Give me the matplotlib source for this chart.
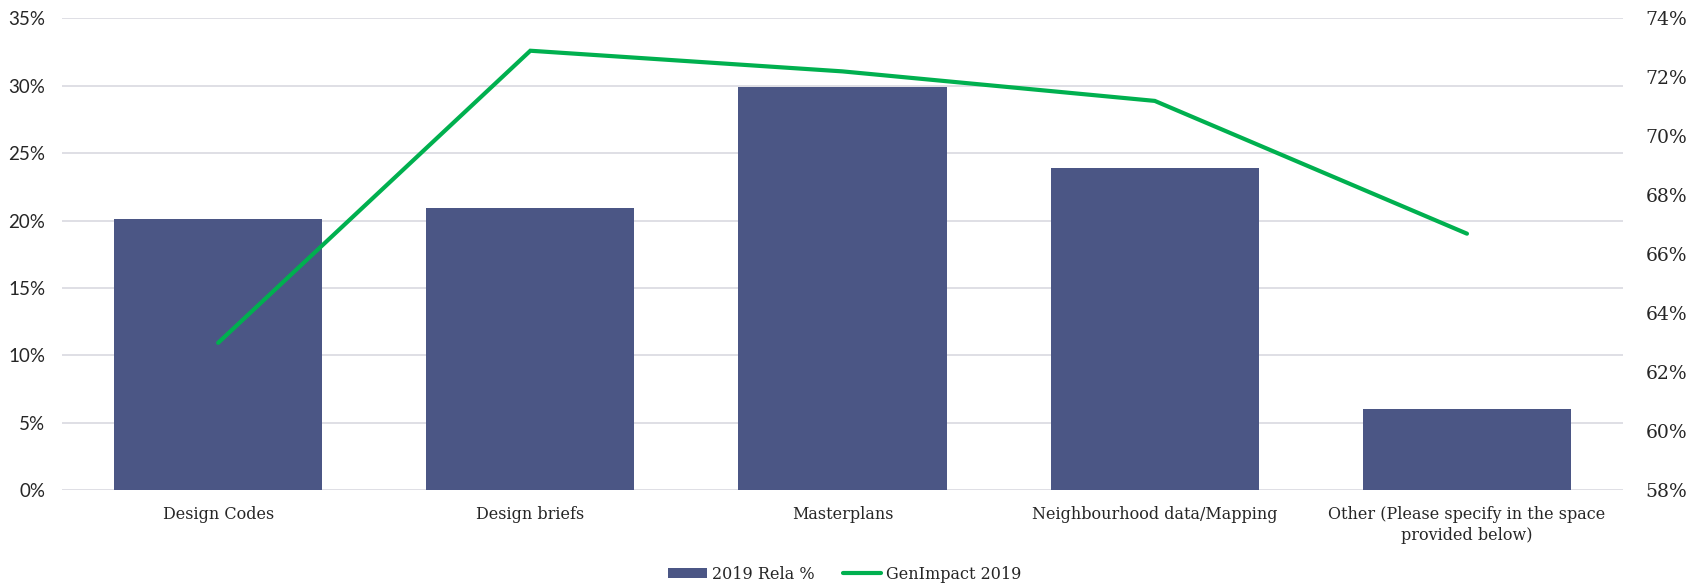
import matplotlib
matplotlib.use("Agg")
import matplotlib.pyplot as plt
from matplotlib.ticker import PercentFormatter, MultipleLocator
from matplotlib.patches import Patch
from matplotlib.lines import Line2D

# Data
categories = [
    "Design Codes",
    "Design briefs",
    "Masterplans",
    "Neighbourhood data/Mapping",
    "Other (Please specify in the space\nprovided below)",
]
rela_2019 = [0.201, 0.209, 0.299, 0.239, 0.060]
genimpact_2019 = [0.630, 0.729, 0.722, 0.712, 0.667]

bar_name = "2019 Rela %"
line_name = "GenImpact 2019"

BAR_COLOR = "#4B5685"
LINE_COLOR = "#00B04F"
GRID_COLOR = "#DCDCE3"
TEXT_COLOR = "#262626"
SERIF = "DejaVu Serif"
SANS = "Lato"

fig = plt.figure(figsize=(16.9, 5.84), dpi=100)
ax = fig.add_axes([0.0367, 0.1603, 0.9237, 0.8084])

x = list(range(len(categories)))
ax.bar(x, rela_2019, width=0.667, color=BAR_COLOR, zorder=2)
ax.set_xlim(-0.5, len(categories) - 0.5)
ax.set_ylim(0, 0.35)
ax.yaxis.set_major_locator(MultipleLocator(0.05))
ax.yaxis.set_major_formatter(PercentFormatter(1.0, decimals=0))
ax.grid(axis="y", color=GRID_COLOR, linewidth=1.3, zorder=0)
ax.set_axisbelow(True)
for s in ax.spines.values():
    s.set_visible(False)
ax.tick_params(axis="both", length=0)
ax.tick_params(axis="y", pad=12)
ax.tick_params(axis="x", pad=11)
ax.set_xticks(x)
ax.set_xticklabels(categories, fontsize=11.5, family=SERIF, color=TEXT_COLOR,
                   linespacing=1.3)
for lbl in ax.get_yticklabels():
    lbl.set_fontfamily(SANS)
    lbl.set_fontsize(13.5)
    lbl.set_color(TEXT_COLOR)

ax2 = ax.twinx()
ax2.plot(x, genimpact_2019, color=LINE_COLOR, linewidth=3, solid_capstyle="round",
         solid_joinstyle="miter", zorder=3)
ax2.set_ylim(0.58, 0.74)
ax2.yaxis.set_major_locator(MultipleLocator(0.02))
ax2.yaxis.set_major_formatter(PercentFormatter(1.0, decimals=0))
for s in ax2.spines.values():
    s.set_visible(False)
ax2.tick_params(axis="y", length=0, pad=16)
for lbl in ax2.get_yticklabels():
    lbl.set_fontfamily(SERIF)
    lbl.set_fontsize(13.5)
    lbl.set_color(TEXT_COLOR)

handles = [
    Patch(facecolor=BAR_COLOR, edgecolor="none"),
    Line2D([0], [0], color=LINE_COLOR, linewidth=3, solid_capstyle="round"),
]
fig.legend(handles, [bar_name, line_name], loc="center", bbox_to_anchor=(0.5, 0.017),
           ncol=2, frameon=False, prop={"family": SERIF, "size": 11.5},
           handlelength=2.4, handleheight=0.6, handletextpad=0.3, columnspacing=1.8,
           labelcolor=TEXT_COLOR)

fig.savefig("out.png", dpi=100, facecolor="white")
